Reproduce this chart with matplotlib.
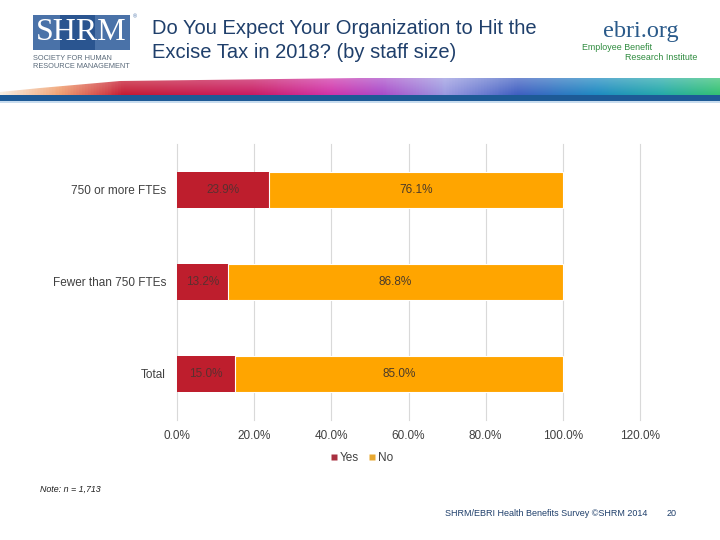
import matplotlib
matplotlib.use("Agg")
import matplotlib.pyplot as plt
import numpy as np
from matplotlib.colors import LinearSegmentedColormap
from matplotlib.patches import Polygon, Rectangle
from matplotlib.lines import Line2D

# data
categories = ["750 or more FTEs", "Fewer than 750 FTEs", "Total"]
yes_values = [23.9, 13.2, 15.0]
no_values = [76.1, 86.8, 85.0]
x_ticks = [0, 20, 40, 60, 80, 100, 120]
series_names = ["Yes", "No"]

W, H = 720, 540
YES_COLOR = "#BE1E2D"
NO_COLOR = "#FFA500"
TEXT = "#404040"
NAVY = "#1F3F6B"

plt.rcParams["font.family"] = ["Liberation Sans", "DejaVu Sans"]

fig = plt.figure(figsize=(7.2, 5.4), dpi=100)


def fx(px):
    return px / W


def fy(py):
    return 1 - py / H


# ---- header: logos, title and colour swoosh ----
hdr = fig.add_axes([0, 0, 1, 1], zorder=0)
hdr.set_xlim(0, W)
hdr.set_ylim(H, 0)
hdr.axis("off")

# SHRM logo
hdr.add_patch(Rectangle((33, 15), 97, 35, facecolor="#4A72A8", edgecolor="none"))
hdr.add_patch(Rectangle((60, 15), 35, 35, facecolor="#2A5590", edgecolor="none"))
hdr.text(81, 33, "SHRM", ha="center", va="center", color="white",
         fontsize=23, family="Liberation Serif")
hdr.text(133, 17, "®", fontsize=4, color="#4A72A8", ha="left", va="center")
hdr.text(33, 58, "SOCIETY FOR HUMAN", fontsize=5.3, color="#5A6A7A", va="center")
hdr.text(33, 67, "RESOURCE MANAGEMENT", fontsize=5.3, color="#5A6A7A", va="center")

# title
fig.text(fx(152), fy(29), "Do You Expect Your Organization to Hit the",
         fontsize=14.5, color=NAVY, va="center")
fig.text(fx(152), fy(52), "Excise Tax in 2018? (by staff size)",
         fontsize=14.5, color=NAVY, va="center")

# ebri logo
hdr.text(641, 31, "ebri.org", ha="center", va="center", fontsize=17.5,
         color="#2A5A8A", family="Liberation Serif")
hdr.text(582, 47, "Employee Benefit", fontsize=6.4, color="#2E8B3E", va="center")
hdr.text(625, 57, "Research Institute", fontsize=6.4, color="#2E8B3E", va="center")

# swoosh gradient, lighter towards the top edge
swoosh_cmap = LinearSegmentedColormap.from_list(
    "swoosh",
    [(0.00, "#F8EEE0"), (0.08, "#F0A070"), (0.17, "#C41830"),
     (0.35, "#C81860"), (0.46, "#D030A8"), (0.53, "#A848C8"),
     (0.62, "#9898E0"), (0.72, "#3C5CC0"), (0.83, "#1A88C0"),
     (0.92, "#20A8A8"), (1.00, "#30C070")],
)
base = swoosh_cmap(np.linspace(0, 1, 500))[:, :3]
shade = np.linspace(0.3, 0.0, 30)[:, None, None]
grad = base[None, :, :] * (1 - shade) + shade
img = hdr.imshow(grad, aspect="auto", extent=(0, W, 96, 77), zorder=1)
shape = Polygon([(0, 96), (0, 92), (40, 88), (120, 81), (360, 78),
                 (720, 78), (720, 96)],
                closed=True, transform=hdr.transData, facecolor="none")
hdr.add_patch(shape)
img.set_clip_path(shape)
hdr.add_patch(Rectangle((0, 95), W, 6, facecolor="#1D5A96", edgecolor="none", zorder=2))
hdr.add_patch(Rectangle((0, 101), W, 1.5, facecolor="#C8DCEE", edgecolor="none", zorder=2))

# ---- chart ----
ax = fig.add_axes([fx(177), fy(420), fx(640) - fx(177), fy(144) - fy(420)], zorder=2)
ax.patch.set_alpha(0)
y = np.arange(len(categories))
bar_h = 0.39
ax.barh(y, yes_values, height=bar_h, color=YES_COLOR, label=series_names[0], zorder=3)
ax.barh(y, no_values, left=yes_values, height=bar_h, color=NO_COLOR,
        edgecolor="white", linewidth=0.8, label=series_names[1], zorder=3)

for yi, ys, ns in zip(y, yes_values, no_values):
    ax.text(ys / 2, yi, f"{ys:.1f}%", ha="center", va="center",
            fontsize=8.5, color="#5A3030", zorder=4)
    ax.text(ys + ns / 2, yi, f"{ns:.1f}%", ha="center", va="center",
            fontsize=8.5, color="#4A3A2A", zorder=4)

ax.set_xlim(0, 120)
ax.set_ylim(len(categories) - 0.5, -0.5)
ax.set_xticks(x_ticks)
ax.set_xticklabels([f"{t:.1f}%" for t in x_ticks])
ax.set_yticks(y)
ax.set_yticklabels(categories)
ax.tick_params(length=0, labelsize=8.5, labelcolor=TEXT)
ax.tick_params(axis="x", pad=7)
ax.tick_params(axis="y", pad=8)
ax.grid(axis="x", color="#D9D9D9", linewidth=0.8, zorder=0)
for gl in ax.get_xgridlines():
    gl.set_clip_on(False)
for spine in ax.spines.values():
    spine.set_visible(False)

handles = [
    Line2D([], [], marker="s", linestyle="none", markersize=4.5,
           markerfacecolor="#A83040", markeredgecolor="none"),
    Line2D([], [], marker="s", linestyle="none", markersize=4.5,
           markerfacecolor="#E8A830", markeredgecolor="none"),
]
fig.legend(handles, series_names, loc="center", ncol=2, frameon=False,
           bbox_to_anchor=(fx(361), fy(458)), fontsize=8.5, labelcolor=TEXT,
           handletextpad=0.1, columnspacing=0.7, handlelength=0.8)

# ---- footer ----
fig.text(fx(40), fy(489), "Note: n = 1,713", fontsize=6.4, style="italic",
         color="#202020", va="center")
fig.text(fx(445), fy(514), "SHRM/EBRI Health Benefits Survey ©SHRM 2014",
         fontsize=6.5, color=NAVY, va="center")
fig.text(fx(667), fy(514), "20", fontsize=6.5, color=NAVY, va="center")

fig.savefig("out.png", dpi=100)
plt.close(fig)
